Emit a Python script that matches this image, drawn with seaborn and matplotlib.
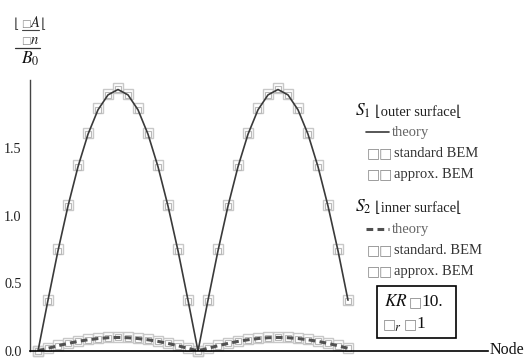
import matplotlib
matplotlib.use('Agg')
import matplotlib.pyplot as plt
import seaborn as sns
from matplotlib.lines import Line2D
from matplotlib.patches import Rectangle

# node index and |dA/dn|/B0 values
nodes = list(range(1, 33))
outer_theory = [0.0, 0.375, 0.74, 1.07, 1.36, 1.60, 1.78, 1.89, 1.93, 1.89, 1.78, 1.60, 1.36, 1.07, 0.74, 0.375,
                0.0, 0.375, 0.74, 1.07, 1.36, 1.60, 1.78, 1.89, 1.93, 1.89, 1.78, 1.60, 1.36, 1.07, 0.74, 0.375]
outer_standard = [0.0, 0.38, 0.75, 1.08, 1.37, 1.61, 1.79, 1.90, 1.94, 1.90, 1.79, 1.61, 1.37, 1.08, 0.75, 0.38,
                  0.0, 0.38, 0.75, 1.08, 1.37, 1.61, 1.79, 1.90, 1.94, 1.90, 1.79, 1.61, 1.37, 1.08, 0.75, 0.38]
outer_approx = [0.0, 0.37, 0.74, 1.07, 1.36, 1.60, 1.78, 1.89, 1.93, 1.89, 1.78, 1.60, 1.36, 1.07, 0.74, 0.37,
                0.0, 0.37, 0.74, 1.07, 1.36, 1.60, 1.78, 1.89, 1.93, 1.89, 1.78, 1.60, 1.36, 1.07, 0.74, 0.37]
inner_theory = [0.0, 0.020, 0.039, 0.056, 0.071, 0.083, 0.092, 0.098, 0.100, 0.098, 0.092, 0.083, 0.071, 0.056, 0.039, 0.020,
                0.0, 0.020, 0.039, 0.056, 0.071, 0.083, 0.092, 0.098, 0.100, 0.098, 0.092, 0.083, 0.071, 0.056, 0.039, 0.020]
inner_standard = [0.0, 0.022, 0.041, 0.058, 0.073, 0.085, 0.094, 0.100, 0.103, 0.100, 0.094, 0.085, 0.073, 0.058, 0.041, 0.022,
                  0.0, 0.022, 0.041, 0.058, 0.073, 0.085, 0.094, 0.100, 0.103, 0.100, 0.094, 0.085, 0.073, 0.058, 0.041, 0.022]
inner_approx = [0.0, 0.020, 0.039, 0.056, 0.071, 0.083, 0.092, 0.098, 0.101, 0.098, 0.092, 0.083, 0.071, 0.056, 0.039, 0.020,
                0.0, 0.020, 0.039, 0.056, 0.071, 0.083, 0.092, 0.098, 0.101, 0.098, 0.092, 0.083, 0.071, 0.056, 0.039, 0.020]

sns.set_style('white')
plt.rcParams['font.family'] = ['Liberation Serif', 'DejaVu Sans']
plt.rcParams['mathtext.fontset'] = 'stix'

W, H = 531, 358
def fx(px):
    return px / W
def fy(py):
    return 1 - py / H

fig = plt.figure(figsize=(W / 100, H / 100), dpi=100)
ax = fig.add_axes([fx(30), fy(351), 458 / W, 271 / H])

sq_big = dict(marker='s', linestyle='', markersize=7.8, markerfacecolor='none',
              markeredgecolor='#c8c8c8', markeredgewidth=1.0, clip_on=False)
sq_small = dict(marker='s', linestyle='', markersize=4.6, markerfacecolor='none',
                markeredgecolor='#b8b8b8', markeredgewidth=0.8, clip_on=False)

sns.lineplot(x=nodes, y=outer_standard, ax=ax, **sq_big)
sns.lineplot(x=nodes, y=outer_approx, ax=ax, **sq_small)
sns.lineplot(x=nodes, y=inner_standard, ax=ax, **sq_big)
sns.lineplot(x=nodes, y=inner_approx, ax=ax, **sq_small)
sns.lineplot(x=nodes, y=outer_theory, ax=ax, color='#3a3a3a', lw=1.2)
sns.lineplot(x=nodes, y=inner_theory, ax=ax, color='#505050', lw=2.2,
             linestyle=(0, (2.2, 1.4)))

ax.set_xlim(0.2, 46)
ax.set_ylim(0, 2.0)
ax.set_xticks(range(2, 47, 2))
ax.set_xticklabels([])
ax.set_yticks([0, 0.5, 1.0, 1.5])
ax.set_yticklabels(['0.0', '0.5', '1.0', '1.5'])
ax.set_yticks([i / 10 for i in range(1, 20) if i % 5], minor=True)
ax.tick_params(axis='y', which='major', direction='in', length=5, width=0.8,
               color='#444444', labelsize=10.2, pad=6, labelcolor='#222222')
ax.tick_params(axis='y', which='minor', direction='in', length=3, width=0.7, color='#444444')
ax.tick_params(axis='x', which='major', direction='in', length=3, width=0.7, color='black')
for s in ['top', 'right']:
    ax.spines[s].set_visible(False)
ax.spines['left'].set_color('#444444')
ax.spines['left'].set_linewidth(1.0)
ax.spines['bottom'].set_color('black')
ax.spines['bottom'].set_linewidth(1.2)

base = dict(va='baseline', ha='left')
box = dict(va='baseline', ha='left', color='#8a8a8a', family='DejaVu Sans')

# axis labels
fig.text(fx(490), fy(354), 'Node', fontsize=11.5, color='#111111', **base)
fig.text(fx(14), fy(28), '⌊', fontsize=10, color='#444444', family='DejaVu Sans', va='baseline', ha='left')
fig.text(fx(21), fy(27), '□', fontsize=7.5, **box)
fig.text(fx(30), fy(27), '$A$', fontsize=10.5, color='#222222', **base)
fig.text(fx(41), fy(28), '⌊', fontsize=10, color='#444444', family='DejaVu Sans', va='baseline', ha='left')
fig.add_artist(Line2D([fx(22), fx(39)], [fy(30), fy(30)], color='#444444', lw=0.8))
fig.text(fx(21), fy(44), '□', fontsize=7.5, **box)
fig.text(fx(30), fy(44), '$n$', fontsize=10.5, color='#222222', **base)
fig.add_artist(Line2D([fx(15), fx(40)], [fy(48), fy(48)], color='#333333', lw=0.9))
fig.text(fx(21), fy(64), '$B_0$', fontsize=12.5, color='#111111', **base)

# legend
lg = dict(fontsize=10.5, va='baseline', ha='left')
fig.text(fx(355), fy(116), '$S_1$', fontsize=12.5, color='#111111', **base)
fig.text(fx(375), fy(116), '⌊outer surface⌊', color='#222222', **lg)
fig.add_artist(Line2D([fx(366), fx(389)], [fy(132), fy(132)], color='#3a3a3a', lw=1.2))
fig.text(fx(392), fy(136), 'theory', color='#666666', **lg)
fig.text(fx(367), fy(157), '□□', fontsize=10, **box)
fig.text(fx(394), fy(157), 'standard BEM', color='#333333', **lg)
fig.text(fx(367), fy(178), '□□', fontsize=10, **box)
fig.text(fx(394), fy(178), 'approx. BEM', color='#333333', **lg)

fig.text(fx(355), fy(212), '$S_2$', fontsize=12.5, color='#111111', **base)
fig.text(fx(375), fy(212), '⌊inner surface⌊', color='#222222', **lg)
fig.add_artist(Line2D([fx(366), fx(389)], [fy(229), fy(229)], color='#505050', lw=2.2,
                      linestyle=(0, (2.2, 1.4))))
fig.text(fx(392), fy(233), 'theory', color='#666666', **lg)
fig.text(fx(367), fy(254), '□□', fontsize=10, **box)
fig.text(fx(394), fy(254), 'standard. BEM', color='#333333', **lg)
fig.text(fx(367), fy(275), '□□', fontsize=10, **box)
fig.text(fx(394), fy(275), 'approx. BEM', color='#333333', **lg)

fig.add_artist(Rectangle((fx(377), fy(338)), 79 / W, 52 / H, fill=False,
                         edgecolor='black', lw=1.2, transform=fig.transFigure))
fig.text(fx(384), fy(306), '$KR$', fontsize=12.5, color='#111111', **base)
fig.text(fx(409), fy(306), '□', fontsize=10, **box)
fig.text(fx(421), fy(306), '10.', fontsize=12.5, color='#111111', **base)
fig.text(fx(383), fy(328), '□', fontsize=10, **box)
fig.text(fx(394), fy(331), '$r$', fontsize=9, color='#111111', **base)
fig.text(fx(404), fy(328), '□', fontsize=10, **box)
fig.text(fx(416), fy(328), '1', fontsize=12.5, color='#111111', **base)

fig.savefig('out.png', dpi=100)
